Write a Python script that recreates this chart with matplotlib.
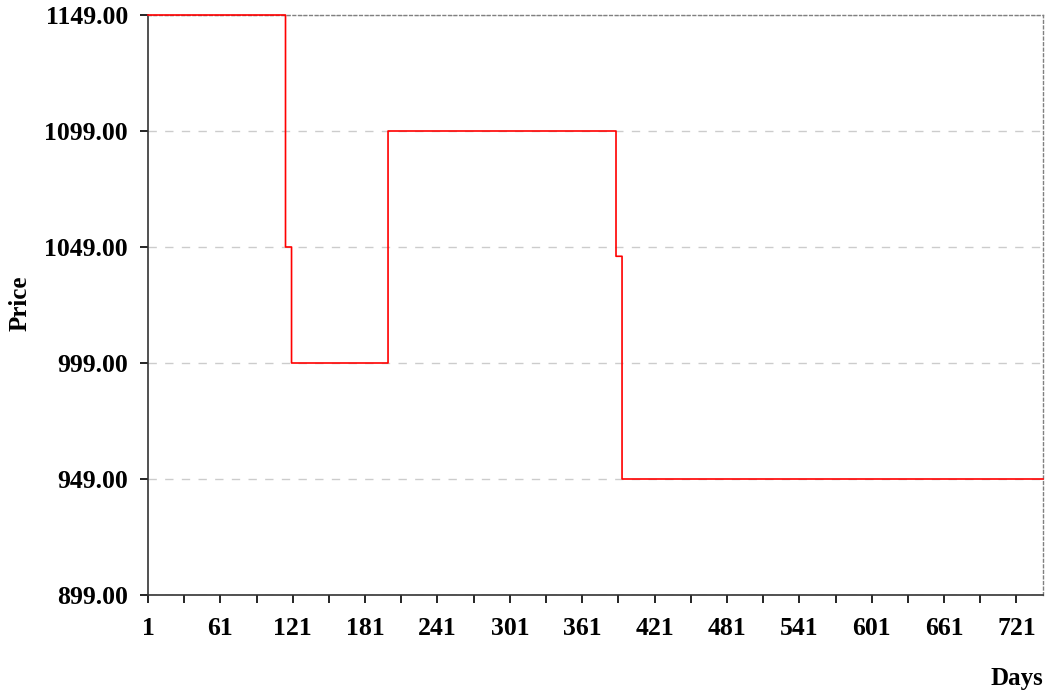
import numpy as np
import matplotlib
matplotlib.use("Agg")
from matplotlib import pyplot as plt
from matplotlib.ticker import FixedLocator

# Price change points (day, price) -- price holds until next change
change_days = [1, 115, 120, 200, 389, 394]
change_prices = [1149.00, 1049.00, 999.00, 1099.00, 1045.00, 949.00]
last_day = 743

y_ticks = [899.00, 949.00, 999.00, 1049.00, 1099.00, 1149.00]
x_ticks = list(range(1, 722, 60))

days = np.arange(1, last_day + 1)
prices = np.array(change_prices)[np.searchsorted(change_days, days, side="right") - 1]

plt.rcParams['font.family'] = ['Liberation Serif', 'DejaVu Serif']
plt.rcParams['font.weight'] = 'bold'

fig = plt.figure(figsize=(10.51, 6.96), dpi=100)
ax = fig.add_axes([148 / 1051, 1 - 595 / 696, (1043 - 148) / 1051, (595 - 15) / 696])

ax.plot(days, prices, color='red', lw=1.2, drawstyle='steps-post', zorder=4, clip_on=False)

ax.set_xlim(1, last_day)
ax.set_ylim(899, 1149)
ax.set_yticks(y_ticks)
ax.set_yticklabels([f"{v:.2f}" for v in y_ticks])
ax.set_xticks(x_ticks)
ax.set_xticklabels([str(v) for v in x_ticks])
ax.xaxis.set_minor_locator(FixedLocator(list(range(31, last_day, 60))))

ax.tick_params(axis='both', which='both', direction='out', length=6, width=1.2,
               color='black', labelsize=18.5)
ax.tick_params(axis='y', pad=8.5)
ax.tick_params(axis='x', which='both', pad=10)
for lbl in ax.get_xticklabels() + ax.get_yticklabels():
    lbl.set_fontweight('bold')

ax.grid(axis='y', color='#cccccc', linestyle=(0, (6, 6)), lw=1)
ax.set_axisbelow(True)

for side in ['top', 'right']:
    ax.spines[side].set_linestyle((0, (2, 2)))
    ax.spines[side].set_color('#808080')
    ax.spines[side].set_linewidth(1)
for side in ['left', 'bottom']:
    ax.spines[side].set_linestyle((0, (4, 1)))
    ax.spines[side].set_color('#333333')
    ax.spines[side].set_linewidth(1.2)

fig.text(20 / 1051, 1 - 303 / 696, 'Price', rotation=90, ha='center', va='center',
         fontsize=18, fontweight='bold')
fig.text(1043 / 1051, 1 - 678 / 696, 'Days', ha='right', va='center',
         fontsize=18, fontweight='bold')

fig.savefig('out.png', dpi=100)
